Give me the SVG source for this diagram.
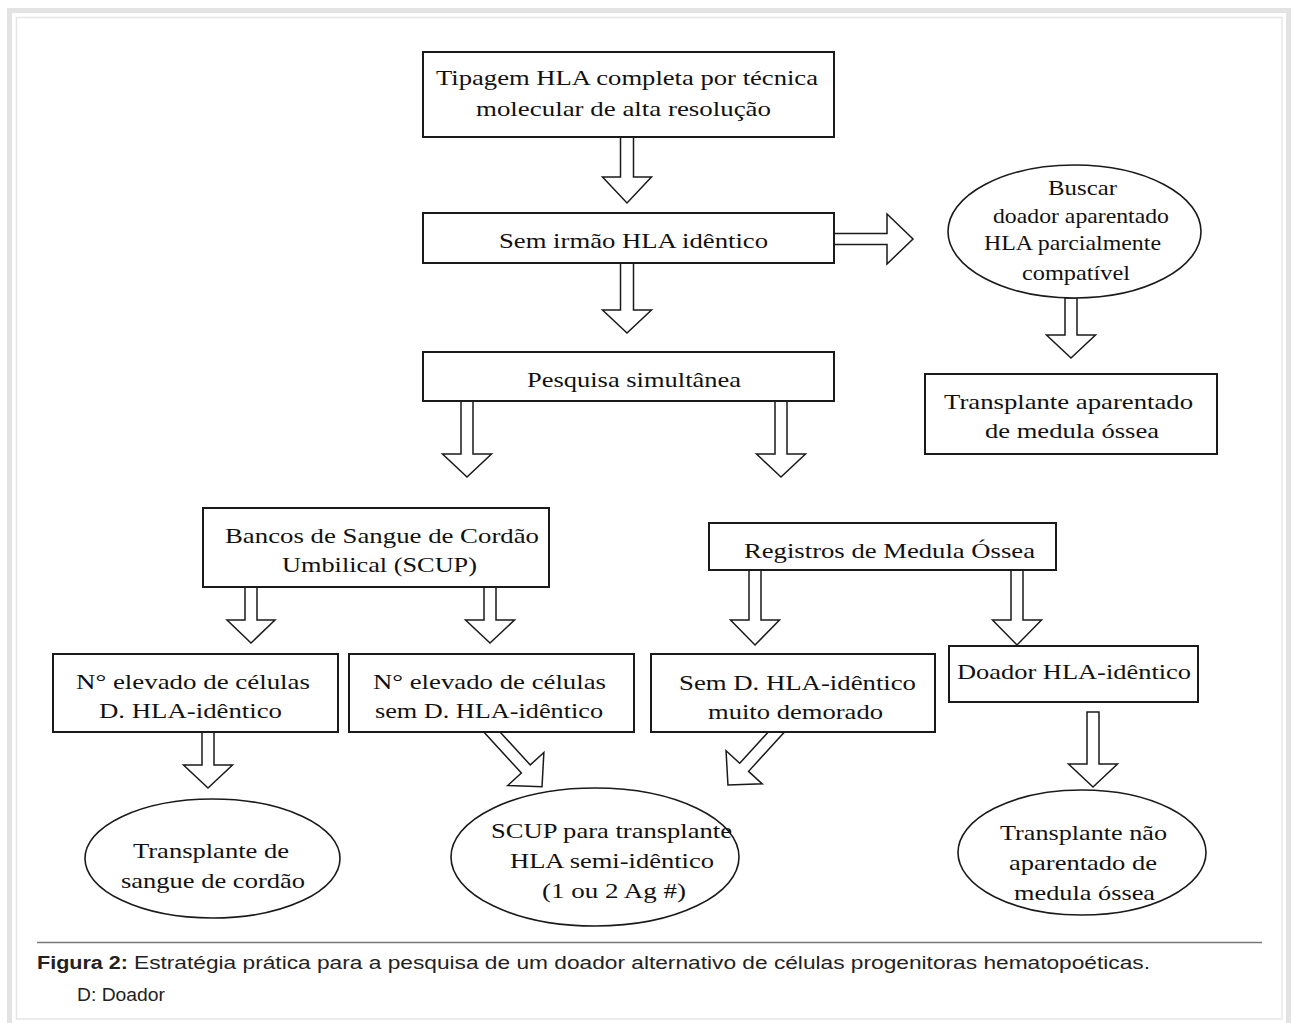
<svg xmlns="http://www.w3.org/2000/svg" width="1291" height="1023" viewBox="0 0 1291 1023">
<style>
.box{fill:#fff;stroke:#1a1a1a;stroke-width:2}
.ell{fill:#fff;stroke:#1a1a1a;stroke-width:1.6}
.arr{fill:#fff;stroke:#1a1a1a;stroke-width:1.5;stroke-linejoin:miter}
.t{font-family:"Liberation Serif","Times New Roman",serif;font-size:21px;fill:#111;text-anchor:middle}
.cap{font-family:"Liberation Sans",Arial,sans-serif;font-size:17.5px;fill:#222}
</style>
<rect x="0" y="0" width="1291" height="1023" fill="#fff"/>
<rect x="9.5" y="10.5" width="1279" height="1030" fill="none" stroke="#e3e3e3" stroke-width="5"/>
<rect x="16.5" y="17.5" width="1265.5" height="1001.5" fill="none" stroke="#e6e6e6" stroke-width="1.5"/>

<g id="connectors">
<polygon class="arr" points="620.5,137 633.5,137 633.5,177 651.5,177 627,203 602.5,177 620.5,177"/>
<polygon class="arr" points="620.5,263 633.5,263 633.5,310 651.5,310 627,333 602.5,310 620.5,310"/>
<polygon class="arr" points="834,233.5 887,233.5 887,214 913,239 887,264 887,244.5 834,244.5"/>
<polygon class="arr" points="1065,298 1077,298 1077,335 1095.5,335 1071,358 1046.5,335 1065,335"/>
<polygon class="arr" points="461,401 473,401 473,454 491.5,454 467,477 442.5,454 461,454"/>
<polygon class="arr" points="775,401 787,401 787,454 805.5,454 781,477 756.5,454 775,454"/>
<polygon class="arr" points="245,587 257,587 257,620 275,620 251,643 227,620 245,620"/>
<polygon class="arr" points="484,587 496,587 496,620 514.5,620 490,643 465.5,620 484,620"/>
<polygon class="arr" points="749,570 761,570 761,620 779.5,620 755,645 730.5,620 749,620"/>
<polygon class="arr" points="1011,570 1023,570 1023,620 1041.5,620 1017,645 992.5,620 1011,620"/>
<polygon class="arr" points="202,732 214,732 214,765 232.5,765 208,788 183.5,765 202,765"/>
<polygon class="arr" points="1087,712 1099,712 1099,764 1117.5,764 1093,787 1068.5,764 1087,764"/>
<g transform="translate(484.6,724) rotate(-42.5)"><polygon class="arr" points="-6,0 6,0 6,61 24.5,61 0,85 -24.5,61 -6,61"/></g>
<g transform="translate(784.6,723) rotate(42.4)"><polygon class="arr" points="-6,0 6,0 6,60 24.5,60 0,84 -24.5,60 -6,60"/></g>
</g>

<g id="n-tipagem"><rect class="box" x="423" y="52" width="411" height="85"/>
<text class="t" x="627" y="85" textLength="382" lengthAdjust="spacingAndGlyphs">Tipagem HLA completa por técnica</text>
<text class="t" x="623.5" y="116" textLength="295" lengthAdjust="spacingAndGlyphs">molecular de alta resolução</text></g>

<g id="n-sem-irmao"><rect class="box" x="423" y="213" width="411" height="50"/>
<text class="t" x="633.5" y="248" textLength="269" lengthAdjust="spacingAndGlyphs">Sem irmão HLA idêntico</text></g>

<g id="n-buscar"><ellipse class="ell" cx="1074.5" cy="231.5" rx="126.5" ry="66.5"/>
<text class="t" x="1082.5" y="195" textLength="69" lengthAdjust="spacingAndGlyphs">Buscar</text>
<text class="t" x="1081" y="223" textLength="176" lengthAdjust="spacingAndGlyphs">doador aparentado</text>
<text class="t" x="1072.5" y="250" textLength="177" lengthAdjust="spacingAndGlyphs">HLA parcialmente</text>
<text class="t" x="1076" y="280" textLength="108" lengthAdjust="spacingAndGlyphs">compatível</text></g>

<g id="n-transp-aparentado"><rect class="box" x="925" y="374" width="292" height="80"/>
<text class="t" x="1068.5" y="409" textLength="249" lengthAdjust="spacingAndGlyphs">Transplante aparentado</text>
<text class="t" x="1072" y="438" textLength="174" lengthAdjust="spacingAndGlyphs">de medula óssea</text></g>

<g id="n-pesquisa"><rect class="box" x="423" y="352" width="411" height="49"/>
<text class="t" x="634" y="387" textLength="214" lengthAdjust="spacingAndGlyphs">Pesquisa simultânea</text></g>

<g id="n-bancos"><rect class="box" x="203" y="508" width="346" height="79"/>
<text class="t" x="382" y="543" textLength="314" lengthAdjust="spacingAndGlyphs">Bancos de Sangue de Cordão</text>
<text class="t" x="379.5" y="572" textLength="195" lengthAdjust="spacingAndGlyphs">Umbilical (SCUP)</text></g>

<g id="n-registros"><rect class="box" x="709" y="523" width="347" height="47"/>
<text class="t" x="889.5" y="558" textLength="291" lengthAdjust="spacingAndGlyphs">Registros de Medula Óssea</text></g>

<g id="n-elevado-identico"><rect class="box" x="53" y="654" width="285" height="78"/>
<text class="t" x="193" y="689" textLength="234" lengthAdjust="spacingAndGlyphs">N° elevado de células</text>
<text class="t" x="190.5" y="718" textLength="183" lengthAdjust="spacingAndGlyphs">D. HLA-idêntico</text></g>

<g id="n-elevado-sem"><rect class="box" x="349" y="654" width="285" height="78"/>
<text class="t" x="489.5" y="689" textLength="233" lengthAdjust="spacingAndGlyphs">N° elevado de células</text>
<text class="t" x="489" y="718" textLength="228" lengthAdjust="spacingAndGlyphs">sem D. HLA-idêntico</text></g>

<g id="n-sem-d"><rect class="box" x="651" y="654" width="284" height="78"/>
<text class="t" x="797.5" y="690" textLength="237" lengthAdjust="spacingAndGlyphs">Sem D. HLA-idêntico</text>
<text class="t" x="795.5" y="719" textLength="175" lengthAdjust="spacingAndGlyphs">muito demorado</text></g>

<g id="n-doador"><rect class="box" x="949" y="646" width="249" height="56"/>
<text class="t" x="1074" y="679" textLength="234" lengthAdjust="spacingAndGlyphs">Doador HLA-idêntico</text></g>

<g id="n-transp-cordao"><ellipse class="ell" cx="212.5" cy="858.5" rx="127.5" ry="59.5"/>
<text class="t" x="211" y="858" textLength="156" lengthAdjust="spacingAndGlyphs">Transplante de</text>
<text class="t" x="213" y="888" textLength="184" lengthAdjust="spacingAndGlyphs">sangue de cordão</text></g>

<g id="n-scup"><ellipse class="ell" cx="595" cy="857" rx="144" ry="69"/>
<text class="t" x="611.5" y="838" textLength="241" lengthAdjust="spacingAndGlyphs">SCUP para transplante</text>
<text class="t" x="612" y="868" textLength="204" lengthAdjust="spacingAndGlyphs">HLA semi-idêntico</text>
<text class="t" x="614" y="898" textLength="144" lengthAdjust="spacingAndGlyphs">(1 ou 2 Ag #)</text></g>

<g id="n-transp-nao"><ellipse class="ell" cx="1082" cy="852.5" rx="124" ry="62.5"/>
<text class="t" x="1083.5" y="840" textLength="167" lengthAdjust="spacingAndGlyphs">Transplante não</text>
<text class="t" x="1083" y="870" textLength="148" lengthAdjust="spacingAndGlyphs">aparentado de</text>
<text class="t" x="1084.5" y="900" textLength="141" lengthAdjust="spacingAndGlyphs">medula óssea</text></g>

<g id="caption">
<line x1="37" y1="942.5" x2="1262" y2="942.5" stroke="#777" stroke-width="1.5"/>
<text class="cap" x="37" y="969" font-weight="bold" textLength="91" lengthAdjust="spacingAndGlyphs">Figura 2:</text>
<text class="cap" x="134" y="969" textLength="1016" lengthAdjust="spacingAndGlyphs">Estratégia prática para a pesquisa de um doador alternativo de células progenitoras hematopoéticas.</text>
<text class="cap" x="77" y="1001" textLength="88" lengthAdjust="spacingAndGlyphs">D: Doador</text>
</g>
</svg>
